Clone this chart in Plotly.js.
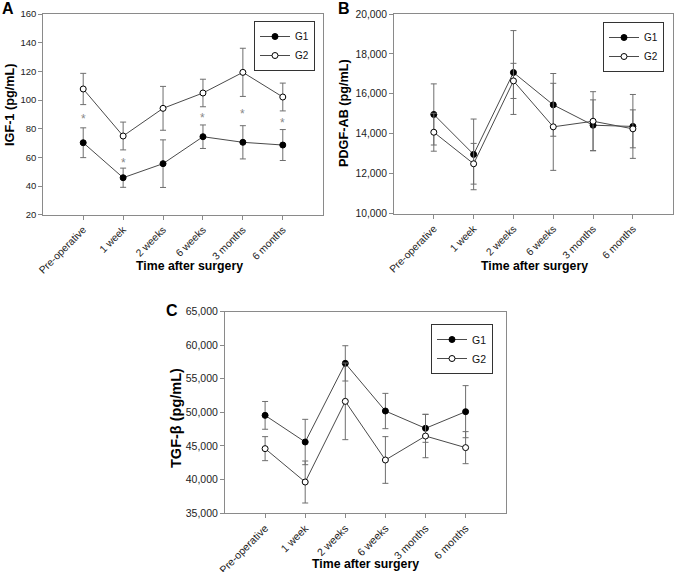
<!DOCTYPE html>
<html>
<head>
<meta charset="utf-8">
<script src="https://cdn.plot.ly/plotly-3.0.1.min.js"></script>
<style>html,body{margin:0;padding:0;background:#fff;}#chart{width:674px;height:572px;}</style>
</head>
<body>
<div id="chart"></div>
<script>
// ---- data ----
var categories = ['Pre-operative', '1 week', '2 weeks', '6 weeks', '3 months', '6 months'];
var groupNames = ['G1', 'G2'];

var igfG1 = [70.2, 45.8, 55.6, 74.4, 70.5, 68.6];
var igfG1Err = [10.4, 6.7, 16.6, 8.2, 11.6, 10.8];
var igfG2 = [107.7, 74.9, 94.2, 104.9, 119.3, 102.1];
var igfG2Err = [10.9, 9.7, 15.3, 9.6, 16.8, 9.7];
var igfSignif = [88.6, 58.1, null, 89.1, 92.1, 85.6];

var pdgfG1 = [14970, 12970, 17070, 15450, 14430, 14370];
var pdgfG1Err = [1530, 1770, 2100, 1570, 1270, 1600];
var pdgfG2 = [14080, 12500, 16650, 14350, 14630, 14250];
var pdgfG2Err = [950, 1020, 880, 2180, 1480, 950];

var tgfG1 = [49550, 45580, 57300, 50200, 47620, 50100];
var tgfG1Err = [2070, 3380, 2630, 2630, 2090, 3880];
var tgfG2 = [44590, 39620, 51640, 42900, 46470, 44740];
var tgfG2Err = [1790, 3130, 5710, 3480, 3230, 2390];

var igfTicks = [20, 40, 60, 80, 100, 120, 140, 160];
var pdgfTicks = [10000, 12000, 14000, 16000, 18000, 20000];
var tgfTicks = [35000, 40000, 45000, 50000, 55000, 60000, 65000];

// ---- styling ----
var W = 674, H = 572;
var FONT = 'Liberation Sans, Arial, Helvetica, sans-serif';
var LINE = '#4a4a4a', ERR = '#6e6e6e', FRAME = '#8a8a8a';

function series(x, y, err, name, filled, xa, ya, leg) {
  return {
    type: 'scatter', mode: 'lines+markers', x: x, y: y, name: name,
    xaxis: xa, yaxis: ya, legend: leg, showlegend: true,
    line: {color: LINE, width: 1},
    marker: {size: 6, symbol: 'circle', color: filled ? '#000' : '#fff',
             line: {color: '#000', width: 1}},
    error_y: {type: 'data', array: err, visible: true, color: ERR, thickness: 1, width: 3}
  };
}

var data = [
  series(categories, igfG1, igfG1Err, groupNames[0], true, 'x', 'y', 'legend'),
  series(categories, igfG2, igfG2Err, groupNames[1], false, 'x', 'y', 'legend'),
  series(categories, pdgfG1, pdgfG1Err, groupNames[0], true, 'x2', 'y2', 'legend2'),
  series(categories, pdgfG2, pdgfG2Err, groupNames[1], false, 'x2', 'y2', 'legend2'),
  series(categories, tgfG1, tgfG1Err, groupNames[0], true, 'x3', 'y3', 'legend3'),
  series(categories, tgfG2, tgfG2Err, groupNames[1], false, 'x3', 'y3', 'legend3')
];

function px(x) { return x / W; }
function py(y) { return 1 - y / H; }

function xaxis(dom, fs, anchor) {
  return {
    domain: dom, anchor: anchor, type: 'category', categoryarray: categories, range: [-1, 6],
    showline: true, mirror: true, linecolor: FRAME, linewidth: 1,
    ticks: 'outside', ticklen: 4, tickcolor: FRAME, tickangle: -45,
    tickfont: {family: FONT, size: fs, color: '#222'}, ticklabeloverflow: 'allow',
    showgrid: false, zeroline: false, fixedrange: true, automargin: false
  };
}
function yaxis(dom, anchor, range, ticks, fs, fmt) {
  return {
    domain: dom, anchor: anchor, range: range, tickvals: ticks, tickformat: fmt,
    showline: true, mirror: true, linecolor: FRAME, linewidth: 1,
    ticks: 'outside', ticklen: 4, tickcolor: FRAME,
    tickfont: {family: FONT, size: fs, color: '#222'}, ticklabeloverflow: 'allow',
    showgrid: false, zeroline: false, fixedrange: true, automargin: false
  };
}
function legendBox(xr, yt, fs) {
  return {
    x: px(xr), y: py(yt), xanchor: 'right', yanchor: 'top',
    bgcolor: '#fff', bordercolor: '#333', borderwidth: 1,
    font: {family: FONT, size: fs, color: '#111'},
    itemwidth: 30, tracegroupgap: 0
  };
}

var annotations = [];
function label(text, x, y, size, angle) {
  annotations.push({text: text, xref: 'paper', yref: 'paper', x: px(x), y: py(y),
    xanchor: 'center', yanchor: 'middle', showarrow: false, textangle: angle || 0,
    font: {family: FONT, size: size, color: '#000'}});
}
label('<b>A</b>', 8, 9, 16);
label('<b>B</b>', 344, 9, 16);
label('<b>C</b>', 172, 310, 16);
label('<b>Time after surgery</b>', 189, 266, 12.3);
label('<b>Time after surgery</b>', 534, 266, 12.3);
label('<b>Time after surgery</b>', 365, 564, 12.3);
label('<b>IGF-1 (pg/mL)</b>', 10, 105, 12.7, -90);
label('<b>PDGF-AB (pg/mL)</b>', 344, 113, 12.7, -90);
label('<b>TGF-β (pg/mL)</b>', 176, 418, 14.5, -90);

igfSignif.forEach(function (v, i) {
  if (v === null) return;
  annotations.push({text: '*', xref: 'x', yref: 'y', x: categories[i], y: v,
    showarrow: false, yshift: -2.5, font: {family: FONT, size: 12, color: '#888'}});
});

var layout = {
  width: W, height: H, margin: {l: 0, r: 0, t: 0, b: 0},
  paper_bgcolor: '#fff', plot_bgcolor: '#fff',
  font: {family: FONT},
  xaxis: xaxis([px(43.3), px(322.7)], 10.3, 'y'),
  yaxis: yaxis([py(214.7), py(14)], 'x', [20, 160], igfTicks, 9.5, 'd'),
  xaxis2: xaxis([px(394), px(672.7)], 10.3, 'y2'),
  yaxis2: yaxis([py(213.7), py(14)], 'x2', [10000, 20000], pdgfTicks, 10.3, ',d'),
  xaxis3: xaxis([px(225), px(505.7)], 10.6, 'y3'),
  yaxis3: yaxis([py(513), py(311.7)], 'x3', [35000, 65000], tgfTicks, 10.5, ',d'),
  legend: legendBox(315, 21, 10),
  legend2: legendBox(664, 22, 10),
  legend3: legendBox(493, 324, 10.5),
  annotations: annotations
};

Plotly.newPlot('chart', data, layout, {staticPlot: true, displayModeBar: false});
</script>
</body>
</html>
